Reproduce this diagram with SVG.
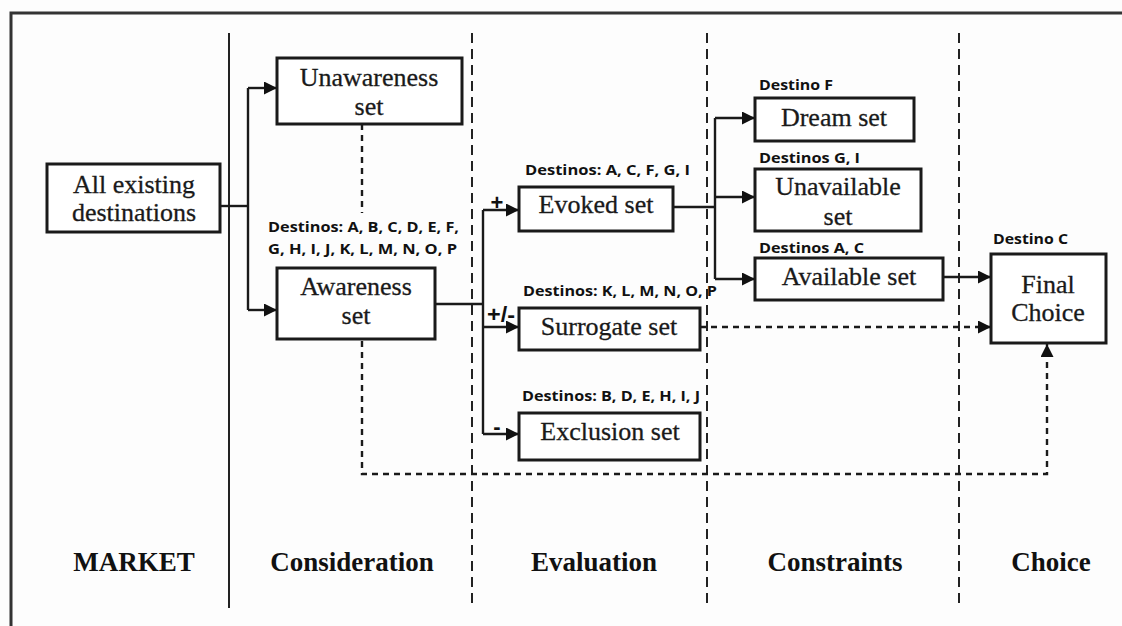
<svg xmlns="http://www.w3.org/2000/svg" width="1122" height="626" viewBox="0 0 1122 626">
  <defs>
    <style>
      .box { fill: #ffffff; stroke: #1a1a1a; stroke-width: 3; }
      .lbl { font-family: "Liberation Serif", "Times New Roman", serif; font-size: 26px; fill: #1a1a1a; stroke: #1a1a1a; stroke-width: 0.3; text-anchor: middle; }
      .stage { font-family: "Liberation Serif", "Times New Roman", serif; font-size: 27px; font-weight: bold; fill: #111111; text-anchor: middle; }
      .dest { font-family: "Open Sans", "Liberation Sans", sans-serif; font-size: 15px; font-weight: bold; fill: #111111; }
      .sign { font-family: "Liberation Sans", Arial, sans-serif; font-size: 22px; font-weight: bold; fill: #111111; }
      .wire { fill: none; stroke: #1a1a1a; stroke-width: 2.4; }
      .dots { fill: none; stroke: #1a1a1a; stroke-width: 2.4; stroke-dasharray: 6 5; }
      .solid-div { stroke: #222222; stroke-width: 2; }
      .dash-div { stroke: #222222; stroke-width: 2; stroke-dasharray: 10 6; }
    </style>
    <marker id="arrow" markerUnits="userSpaceOnUse" markerWidth="14" markerHeight="14" refX="13" refY="6.5" orient="auto">
      <path d="M0,0 L13,6.5 L0,13 z" fill="#111111"/>
    </marker>
  </defs>

  <rect x="0" y="0" width="1122" height="626" fill="#fdfdfd"/>

  <!-- outer frame (open to the right and bottom) -->
  <path d="M11,630 L11,13 L1126,13" fill="none" stroke="#333333" stroke-width="3"/>

  <!-- stage dividers -->
  <g id="dividers">
    <line class="solid-div" x1="229" y1="33" x2="229" y2="608"/>
    <line class="dash-div" x1="472" y1="33" x2="472" y2="608"/>
    <line class="dash-div" x1="707" y1="33" x2="707" y2="608"/>
    <line class="dash-div" x1="959" y1="33" x2="959" y2="608"/>
  </g>

  <!-- connectors -->
  <g id="connectors">
    <path class="wire" d="M220,206 L248,206"/>
    <path class="wire" d="M248,88 L248,310"/>
    <path class="wire" d="M248,88 L277,88" marker-end="url(#arrow)"/>
    <path class="wire" d="M248,310 L277,310" marker-end="url(#arrow)"/>
    <path class="dots" d="M362,124 L362,213"/>

    <path class="wire" d="M435,304 L483,304"/>
    <path class="wire" d="M483,210 L483,434"/>
    <path class="wire" d="M483,210 L519,210" marker-end="url(#arrow)"/>
    <path class="wire" d="M483,327 L519,327" marker-end="url(#arrow)"/>
    <path class="wire" d="M483,434 L519,434" marker-end="url(#arrow)"/>

    <path class="wire" d="M673,207 L715,207"/>
    <path class="wire" d="M715,118 L715,279"/>
    <path class="wire" d="M715,118 L755,118" marker-end="url(#arrow)"/>
    <path class="wire" d="M715,197 L755,197" marker-end="url(#arrow)"/>
    <path class="wire" d="M715,279 L755,279" marker-end="url(#arrow)"/>

    <path class="wire" d="M943,277 L991,277" marker-end="url(#arrow)"/>
    <path class="dots" d="M700,327 L991,327" marker-end="url(#arrow)"/>
    <path class="dots" d="M362,330 L362,474 L1047,474 L1047,344" marker-end="url(#arrow)"/>

    <text class="sign" x="497" y="210" text-anchor="middle">+</text>
    <text class="sign" x="487" y="322" textLength="28" lengthAdjust="spacingAndGlyphs">+/-</text>
    <text class="sign" x="497" y="434" text-anchor="middle">-</text>
  </g>

  <!-- market -->
  <g id="all-existing">
    <rect class="box" x="47" y="164" width="173" height="68"/>
    <text class="lbl" x="134" y="193">All existing</text>
    <text class="lbl" x="134" y="221">destinations</text>
  </g>

  <!-- consideration -->
  <g id="unawareness-set">
    <rect class="box" x="277" y="58" width="185" height="66"/>
    <text class="lbl" x="369" y="86">Unawareness</text>
    <text class="lbl" x="369" y="115">set</text>
  </g>
  <g id="awareness-set">
    <rect class="box" x="277" y="268" width="158" height="71"/>
    <text class="lbl" x="356" y="295">Awareness</text>
    <text class="lbl" x="356" y="324">set</text>
    <text class="dest" x="268" y="232" textLength="191" lengthAdjust="spacingAndGlyphs">Destinos: A, B, C, D, E, F,</text>
    <text class="dest" x="268" y="254" textLength="189" lengthAdjust="spacingAndGlyphs">G, H, I, J, K, L, M, N, O, P</text>
  </g>

  <!-- evaluation -->
  <g id="evoked-set">
    <rect class="box" x="519" y="187" width="154" height="44"/>
    <text class="lbl" x="596" y="213">Evoked set</text>
    <text class="dest" x="525" y="175" textLength="165" lengthAdjust="spacingAndGlyphs">Destinos: A, C, F, G, I</text>
  </g>
  <g id="surrogate-set">
    <rect class="box" x="519" y="308" width="181" height="42"/>
    <text class="lbl" x="609" y="335">Surrogate set</text>
    <text class="dest" x="523" y="296" textLength="194" lengthAdjust="spacingAndGlyphs">Destinos: K, L, M, N, O, P</text>
  </g>
  <g id="exclusion-set">
    <rect class="box" x="519" y="413" width="181" height="47"/>
    <text class="lbl" x="610" y="440">Exclusion set</text>
    <text class="dest" x="522" y="401" textLength="178" lengthAdjust="spacingAndGlyphs">Destinos: B, D, E, H, I, J</text>
  </g>

  <!-- constraints -->
  <g id="dream-set">
    <rect class="box" x="755" y="98" width="159" height="43"/>
    <text class="lbl" x="834" y="126">Dream set</text>
    <text class="dest" x="759" y="90" textLength="74" lengthAdjust="spacingAndGlyphs">Destino F</text>
  </g>
  <g id="unavailable-set">
    <rect class="box" x="755" y="169" width="166" height="62"/>
    <text class="lbl" x="838" y="195">Unavailable</text>
    <text class="lbl" x="838" y="225">set</text>
    <text class="dest" x="759" y="163" textLength="101" lengthAdjust="spacingAndGlyphs">Destinos G, I</text>
  </g>
  <g id="available-set">
    <rect class="box" x="755" y="258" width="188" height="42"/>
    <text class="lbl" x="849" y="285">Available set</text>
    <text class="dest" x="759" y="253" textLength="105" lengthAdjust="spacingAndGlyphs">Destinos A, C</text>
  </g>

  <!-- choice -->
  <g id="final-choice">
    <rect class="box" x="991" y="254" width="115" height="89"/>
    <text class="lbl" x="1048" y="293">Final</text>
    <text class="lbl" x="1048" y="321">Choice</text>
    <text class="dest" x="993" y="244" textLength="75" lengthAdjust="spacingAndGlyphs">Destino C</text>
  </g>

  <!-- stage headings -->
  <g id="stages">
    <text class="stage" x="134" y="571">MARKET</text>
    <text class="stage" x="352" y="571">Consideration</text>
    <text class="stage" x="594" y="571">Evaluation</text>
    <text class="stage" x="835" y="571">Constraints</text>
    <text class="stage" x="1051" y="571">Choice</text>
  </g>
</svg>
